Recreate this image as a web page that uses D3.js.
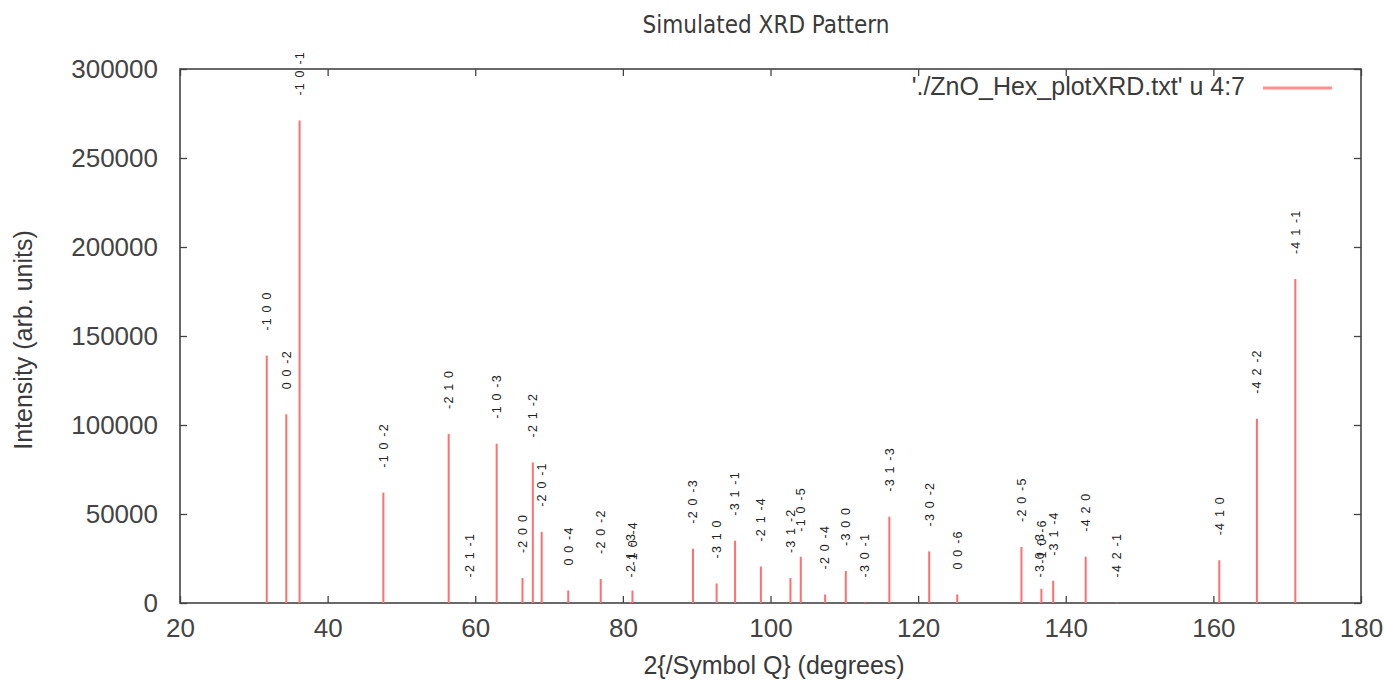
<!DOCTYPE html>
<html>
<head>
<meta charset="utf-8">
<script src="https://cdn.jsdelivr.net/npm/d3@7"></script>
<style>
  body { margin: 0; background: #fff; }
  text { fill: #3a3a3a; }
</style>
</head>
<body>
<div id="chart"></div>
<script>
// peak positions (2 theta, degrees), intensities and hkl labels
var twoTheta = [31.75, 34.4, 36.2, 47.55, 56.4, 59.3, 62.9, 66.4, 67.8, 69.0,
  72.6, 77.0, 81.0, 81.3, 89.5, 92.7, 95.2, 98.7, 102.7, 104.1,
  107.4, 110.2, 112.8, 116.1, 121.5, 125.3, 134.0, 136.5, 136.7, 138.3,
  142.7, 146.9, 160.8, 165.9, 171.1];
var intensity = [139000, 106000, 271000, 62000, 95000, 300, 89500, 14000, 79000, 40000,
  7000, 13500, 300, 7000, 30500, 11000, 35000, 20500, 14000, 26000,
  4800, 18000, 300, 48500, 29000, 4800, 31500, 300, 8000, 12500,
  26000, 300, 24000, 103500, 182000];
var hkl = ["-1 0 0", "0 0 -2", "-1 0 -1", "-1 0 -2", "-2 1 0", "-2 1 -1", "-1 0 -3", "-2 0 0", "-2 1 -2", "-2 0 -1",
  "0 0 -4", "-2 0 -2", "-2 1 -3", "-1 0 -4", "-2 0 -3", "-3 1 0", "-3 1 -1", "-2 1 -4", "-3 1 -2", "-1 0 -5",
  "-2 0 -4", "-3 0 0", "-3 0 -1", "-3 1 -3", "-3 0 -2", "0 0 -6", "-2 0 -5", "-3 0 -3", "-1 0 -6", "-3 1 -4",
  "-4 2 0", "-4 2 -1", "-4 1 0", "-4 2 -2", "-4 1 -1"];

var xTicks = [20, 40, 60, 80, 100, 120, 140, 160, 180];
var yTicks = [0, 50000, 100000, 150000, 200000, 250000, 300000];

var peaks = twoTheta.map(function(t, i) {
  return { t: t, I: intensity[i], label: hkl[i] };
});

var svgWidth = 1384;
var svgHeight = 680;
var margin = { top: 69, right: 23, bottom: 77, left: 180 };
var chartWidth = svgWidth - margin.left - margin.right;
var chartHeight = svgHeight - margin.top - margin.bottom;

var svg = d3.select("#chart")
  .append("svg")
  .attr("width", svgWidth)
  .attr("height", svgHeight);

var chartGroup = svg.append("g")
  .attr("transform", `translate(${margin.left}, ${margin.top})`);

var xScale = d3.scaleLinear().domain([20, 180]).range([0, chartWidth]);
var yScale = d3.scaleLinear().domain([0, 300000]).range([chartHeight, 0]);

var axisFont = "'Liberation Sans', Arial, sans-serif";

// axes, ticks pointing inward
var xAxis = d3.axisBottom(xScale).tickValues(xTicks).tickSize(-7).tickPadding(16).tickFormat(d3.format("d"));
var xAxisTop = d3.axisTop(xScale).tickValues(xTicks).tickSize(-7).tickFormat("");
var yAxis = d3.axisLeft(yScale).tickValues(yTicks).tickSize(-7).tickPadding(22).tickFormat(d3.format("d"));
var yAxisRight = d3.axisRight(yScale).tickValues(yTicks).tickSize(-7).tickFormat("");

chartGroup.append("g").attr("transform", `translate(0, ${chartHeight})`).call(xAxis);
chartGroup.append("g").call(xAxisTop);
chartGroup.append("g").call(yAxis);
chartGroup.append("g").attr("transform", `translate(${chartWidth}, 0)`).call(yAxisRight);

chartGroup.selectAll(".domain").remove();
chartGroup.selectAll(".tick line").attr("stroke", "#444").attr("stroke-width", 1.3);
chartGroup.selectAll(".tick text")
  .style("font-family", axisFont)
  .style("font-size", "26px")
  .style("fill", "#444");

// frame
chartGroup.append("rect")
  .attr("width", chartWidth)
  .attr("height", chartHeight)
  .attr("fill", "none")
  .attr("stroke", "#444")
  .attr("stroke-width", 1.6);

// impulses
chartGroup.selectAll(".peak")
  .data(peaks)
  .enter()
  .append("line")
  .attr("class", "peak")
  .attr("x1", d => xScale(d.t))
  .attr("x2", d => xScale(d.t))
  .attr("y1", yScale(0))
  .attr("y2", d => yScale(d.I))
  .attr("stroke", "#ff6f6f")
  .attr("stroke-width", 2);

// hkl labels, rotated, just above each peak
chartGroup.selectAll(".hkl")
  .data(peaks)
  .enter()
  .append("text")
  .attr("class", "hkl")
  .attr("transform", d => `translate(${xScale(d.t)}, ${yScale(d.I) - 25}) rotate(-90)`)
  .attr("dy", "0.35em")
  .attr("text-anchor", "start")
  .style("font-family", axisFont)
  .style("font-size", "12.5px")
  .style("letter-spacing", "1.2px")
  .style("fill", "#222")
  .text(d => d.label);

// title
svg.append("text")
  .attr("x", 766)
  .attr("y", 33)
  .attr("text-anchor", "middle")
  .style("font-family", "'DejaVu Sans Condensed', 'DejaVu Sans', sans-serif")
  .style("font-size", "24px")
  .text("Simulated XRD Pattern");

// x label
svg.append("text")
  .attr("x", 774)
  .attr("y", 674)
  .attr("text-anchor", "middle")
  .style("font-family", axisFont)
  .style("font-size", "25px")
  .text("2{/Symbol Q} (degrees)");

// y label
svg.append("text")
  .attr("transform", "translate(32, 340) rotate(-90)")
  .attr("text-anchor", "middle")
  .style("font-family", axisFont)
  .style("font-size", "25px")
  .text("Intensity (arb. units)");

// legend
svg.append("text")
  .attr("x", 1245)
  .attr("y", 95)
  .attr("text-anchor", "end")
  .style("font-family", axisFont)
  .style("font-size", "25px")
  .text("'./ZnO_Hex_plotXRD.txt' u 4:7");

svg.append("line")
  .attr("x1", 1263)
  .attr("x2", 1332)
  .attr("y1", 88)
  .attr("y2", 88)
  .attr("stroke", "#ff9090")
  .attr("stroke-width", 3);
</script>
</body>
</html>
